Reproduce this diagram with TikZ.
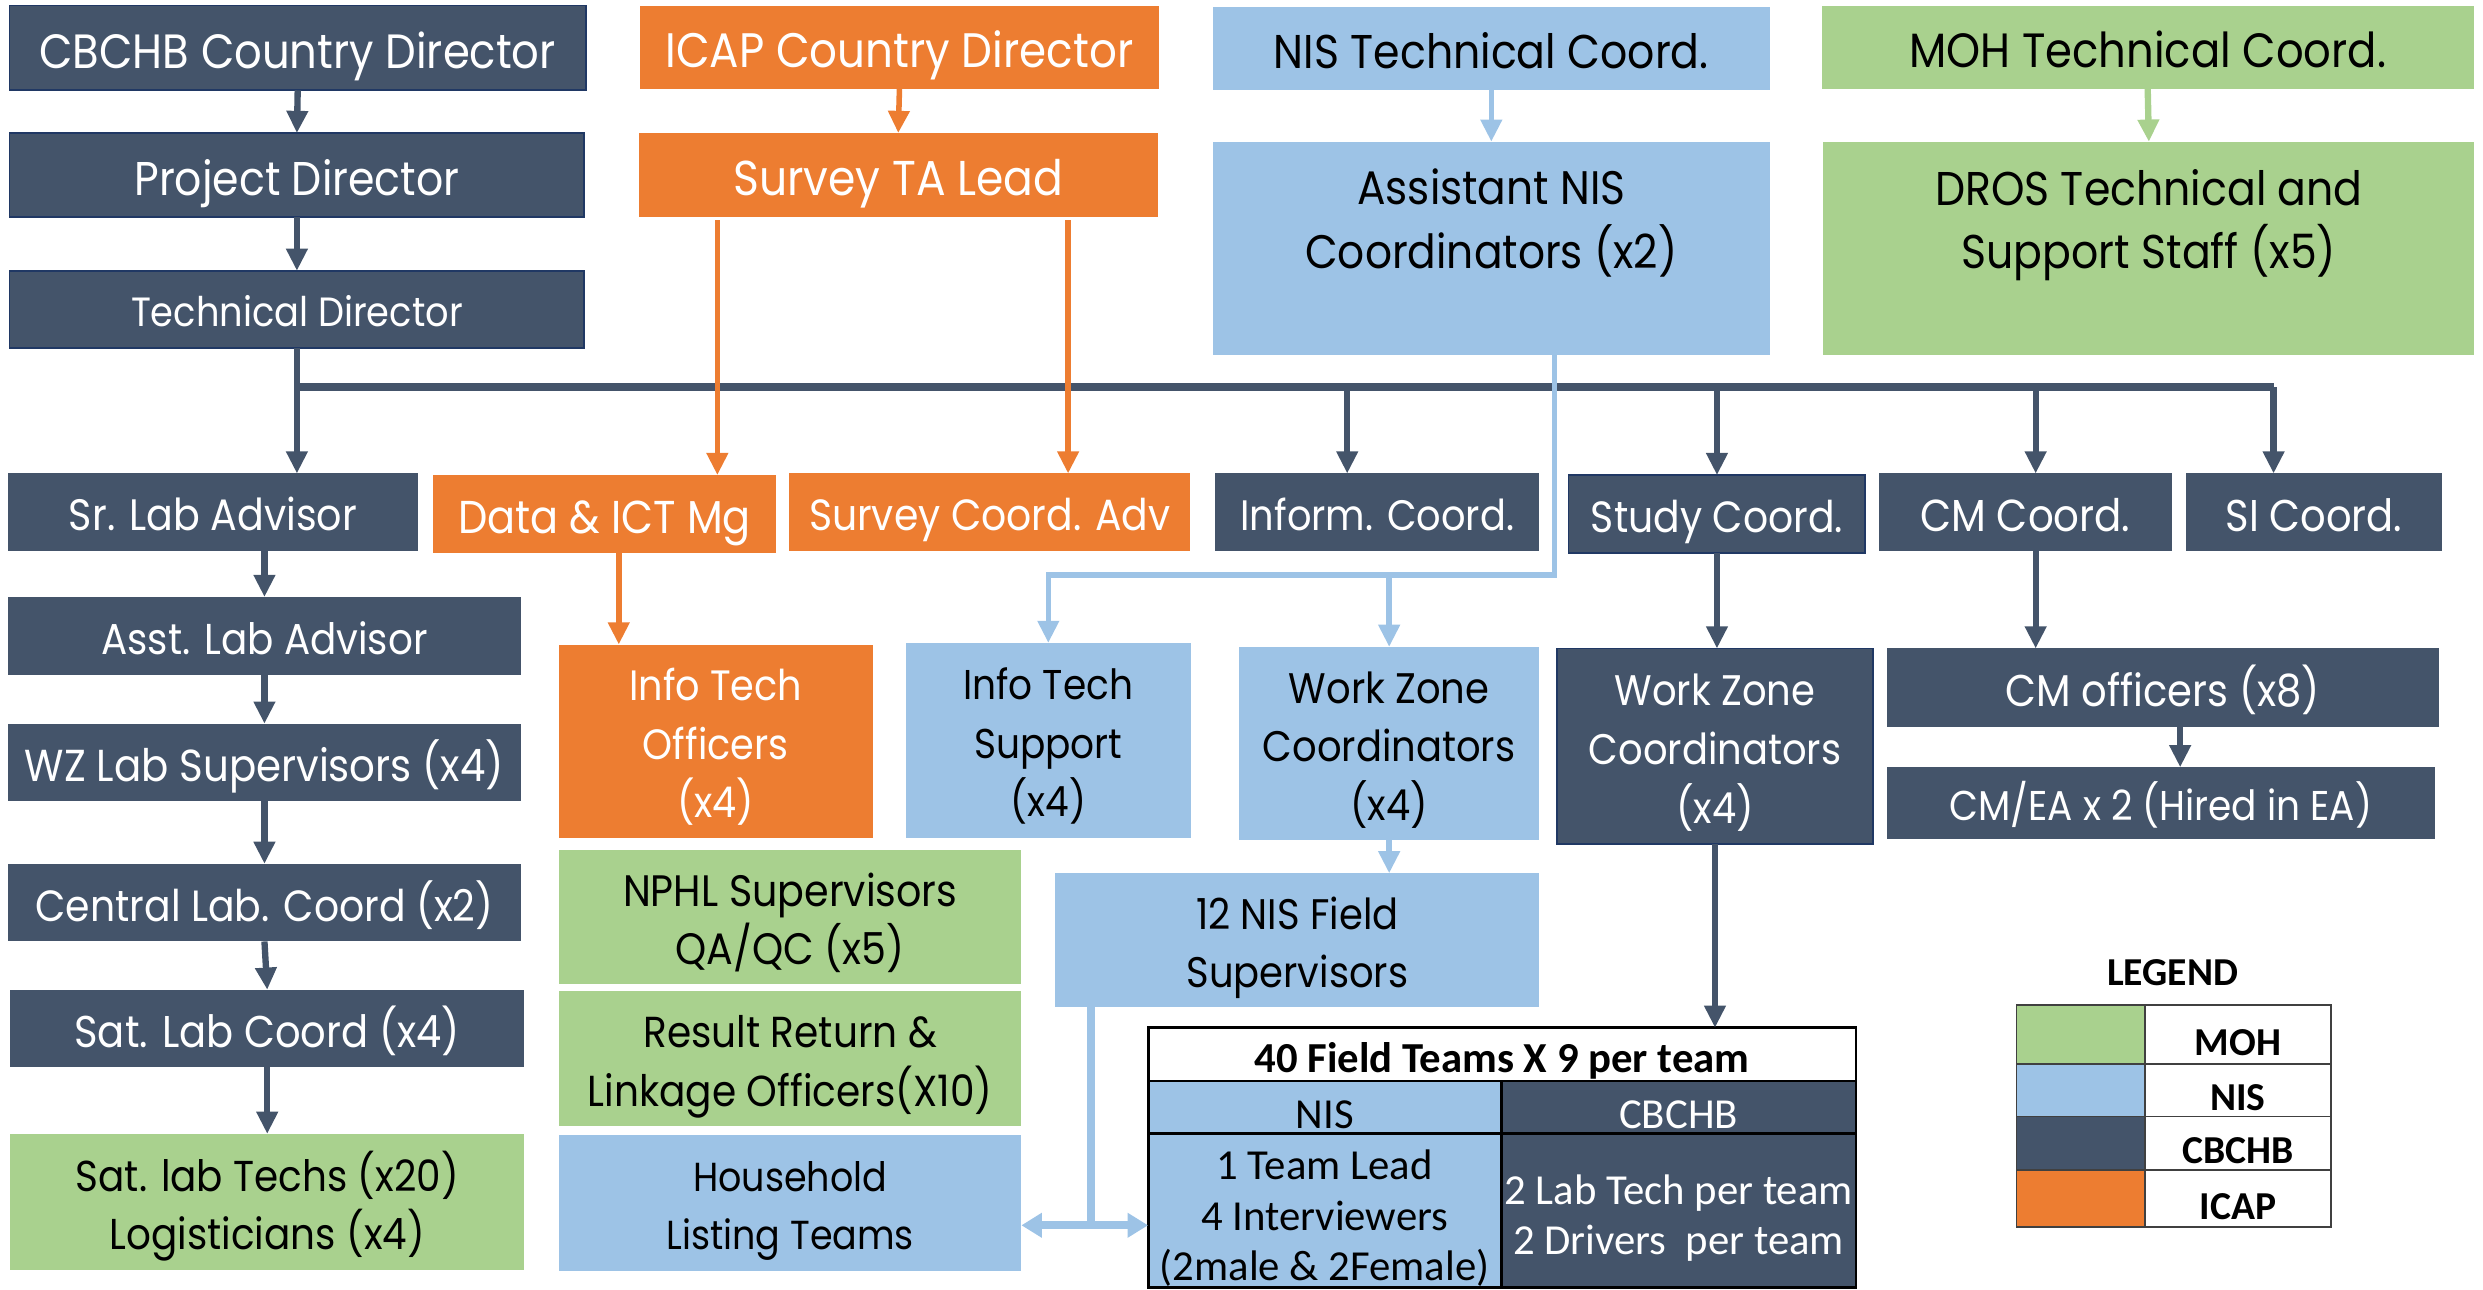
\documentclass[tikz,border=0pt]{standalone}
\usepackage{fontspec}
\newfontfamily\boxfont{Poppins}[FakeStretch=0.9]
\newfontfamily\tabfont{Carlito}
\usetikzlibrary{arrows.meta}

\definecolor{cbchb}{RGB}{68,84,106}
\definecolor{icap}{RGB}{237,125,49}
\definecolor{nis}{RGB}{157,195,230}
\definecolor{moh}{RGB}{169,209,142}
\definecolor{navyline}{RGB}{32,56,100}

\newcommand\tabfnt{\tabfont\fontsize{27}{32}\selectfont}
\newcommand\legfnt{\tabfont\fontsize{25}{28}\selectfont\bfseries}
% struts for the first line of a box / a table cell
\newcommand\fstrut{\rule[-0.3em]{0pt}{1.45em}}
\newcommand\tstrut{\rule{0pt}{1.05em}}

\tikzset{
  wh/.style 2 args={minimum width=#1pt, minimum height=#2pt},
  fsz/.style={font=\boxfont\fontsize{#1}{37}\selectfont},
  box/.style={anchor=north west, inner sep=0pt, outer sep=0pt, align=center, fsz=27.5,
    execute at begin node=\fstrut},
  dk/.style={box, fill=cbchb, text=white},
  dkb/.style={dk, draw=navyline, line width=1.2pt},
  or/.style={box, fill=icap, text=white},
  ni/.style={box, fill=nis, text=black},
  mo/.style={box, fill=moh, text=black},
  tabcell/.style={anchor=north west, inner sep=0pt, outer sep=0pt, align=center,
    draw=black, line width=1.8pt, font=\tabfnt, execute at begin node={\rule{0pt}{1em}}},
  legbox/.style={anchor=north west, inner sep=0pt, outer sep=0pt, draw=black!75,
    line width=1pt, font=\legfnt, execute at begin node={\rule{0pt}{1.05em}}},
  cbarrow/.style={draw=cbchb, line width=4pt, -{Triangle[length=14pt,width=13pt]}},
  busline/.style={draw=cbchb, line width=5pt},
  orarrow/.style={draw=icap, line width=3.5pt, -{Triangle[length=14pt,width=13pt]}},
  nisarrow/.style={draw=nis, line width=3.5pt, -{Triangle[length=14pt,width=13pt]}},
  nisbig/.style={draw=nis, line width=5pt},
  moharrow/.style={draw=moh, line width=4pt, -{Triangle[length=14pt,width=13pt]}}
}

\begin{document}
\begin{tikzpicture}[x=1pt,y=-1pt]
\useasboundingbox (0,0) rectangle (1568,814.6);

% top of the chart: the four heads
\node[dkb, fsz=30.4, wh={364}{53.5}] (cbcd) at (6,3.5) {CBCHB Country Director};
\node[or, fsz=30.6, wh={328}{52.5}] (icd) at (404,3.5) {ICAP Country Director};
\node[ni, fsz=29.9, wh={351.5}{52.5}] (ntc) at (766,4.5) {NIS Technical Coord.};
\node[mo, fsz=30.4, wh={411.5}{52.5}] (mtc) at (1150.5,3.5) {MOH Technical Coord.};

\node[dkb, fsz=29.9, wh={363}{53}] (pd) at (6,84) {Project Director};
\node[or, fsz=30.9, wh={327.5}{53}] (sta) at (403.5,84) {Survey TA Lead};
\node[ni, fsz=29.7, wh={351.5}{134.5}] (anc) at (766,89.5) {\fstrut Assistant NIS\\[3pt]Coordinators (x2)\\[3pt]\mbox{}};
\node[mo, fsz=29.9, wh={411}{134.5}] (dros) at (1151.5,89.5) {\fstrut DROS Technical and\\[3pt]Support Staff (x5)\\[3pt]\mbox{}};

\node[dkb, fsz=25.8, wh={363}{49}] (td) at (6,171) {Technical Director};

% second level
\node[dk, fsz=27.8, wh={259}{49}] (sla) at (5,299) {Sr. Lab Advisor};
\node[or, fsz=29.1, wh={216.5}{49}] (dict) at (273.5,300) {Data \& ICT Mg};
\node[or, fsz=27.6, wh={253}{49}] (sca) at (498.5,299) {Survey Coord. Adv};
\node[dk, fsz=26.9, wh={204.5}{49}] (inf) at (767.5,299) {Inform. Coord.};
\node[dkb, fsz=27.6, wh={187.5}{49}] (stc) at (990.5,300) {Study Coord.};
\node[dk, fsz=28.3, wh={185}{49}] (cmc) at (1186.5,299) {CM Coord.};
\node[dk, fsz=28.1, wh={161.5}{49}] (si) at (1380.5,299) {SI Coord.};

% lab column
\node[dk, fsz=27.3, wh={324}{49}] (ala) at (5,377) {Asst. Lab Advisor};
\node[dk, fsz=28.3, wh={324}{49}] (wzl) at (5,457) {WZ Lab Supervisors (x4)};
\node[dk, fsz=27.6, wh={324}{49}] (clc) at (5,545.5) {Central Lab. Coord (x2)};
\node[dk, fsz=28.1, wh={324.5}{49}] (slc) at (6.5,625) {Sat. Lab Coord (x4)};
\node[mo, fsz=27.3, wh={324.5}{86}] (slt) at (6.5,716) {\fstrut Sat. lab Techs (x20)\\Logisticians (x4)};

% third level
\node[or, fsz=26.8, wh={198}{122}] (ito) at (353,407) {\fstrut Info Tech\\Officers\\(x4)};
\node[ni, fsz=26.3, wh={180}{123}] (its) at (572,406) {\fstrut Info Tech\\Support\\(x4)};
\node[ni, fsz=27, wh={189.5}{122}] (wzn) at (782.5,408.5) {\fstrut Work Zone\\Coordinators\\(x4)};
\node[dkb, fsz=27, wh={199}{123.5}] (wzc) at (983.5,409.5) {\fstrut Work Zone\\Coordinators\\(x4)};
\node[dk, fsz=28.1, wh={348.5}{49.5}] (cmo) at (1191.5,409.5) {CM officers (x8)};
\node[dk, fsz=26.3, wh={346}{45}] (cmea) at (1191.5,484.5) {CM/EA x 2 (Hired in EA)};

\node[mo, fsz=27.8, wh={292}{85}] (nphl) at (353,536.5) {\fstrut NPHL Supervisors\\QA/QC (x5)};
\node[mo, fsz=27.4, wh={292}{85}] (rrl) at (353,626) {\fstrut Result Return \&\\Linkage Officers(X10)};
\node[ni, fsz=25.6, wh={292}{85.5}] (hlt) at (353,717) {\fstrut Household\\Listing Teams};
\node[ni, fsz=27, wh={305.5}{84.5}] (nfs) at (666.5,551.5) {\fstrut 12 NIS Field\\Supervisors};

% field team table
\node[tabcell, wh={447}{33.6}, font=\tabfnt\bfseries] (fthead) at (725,649) {40 Field Teams X 9 per team};
\node[tabcell, wh={223}{33.4}, fill=nis] (ftnis) at (725,682.6) {NIS};
\node[tabcell, wh={224}{33.4}, fill=cbchb, text=white] (ftcb) at (948,682.6) {CBCHB};
\node[tabcell, wh={223}{97}, fill=nis] (ftnisbody) at (725,716) {\tstrut 1 Team Lead\\4 Interviewers\\(2male \& 2Female)};
\node[tabcell, wh={224}{97}, fill=cbchb, text=white] (ftcbbody) at (948,716) {\tstrut 2 Lab Tech per team\\2 Drivers\ \ per team};

% legend
\node[font=\legfnt] (leg) at (1372,614) {LEGEND};
\node[legbox, fill=moh, wh={81}{37.5}] (lgmoh) at (1273.5,634.5) {};
\node[legbox, wh={117.5}{37.5}] (lgmohtx) at (1354.5,634.5) {MOH};
\node[legbox, fill=nis, wh={81}{33}] (lgnis) at (1273.5,672) {};
\node[legbox, wh={117.5}{33}] (lgnistx) at (1354.5,672) {NIS};
\node[legbox, fill=cbchb, wh={81}{34}] (lgcb) at (1273.5,705) {};
\node[legbox, wh={117.5}{34}] (lgcbtx) at (1354.5,705) {CBCHB};
\node[legbox, fill=icap, wh={81}{36}] (lgicap) at (1273.5,739) {};
\node[legbox, wh={117.5}{36}] (lgicaptx) at (1354.5,739) {ICAP};

% CBCHB chain
\draw[cbarrow] (cbcd.south) -- (pd.north);
\draw[cbarrow] (pd.south) -- (td.north);
\coordinate (bus) at (td.south |- 0,244.5);
\coordinate (infin) at ([xshift=-19pt]inf.north);
\coordinate (cmin) at ([xshift=-0.5pt]cmc.north -| 1286,0);
\coordinate (siin) at ([xshift=-25.5pt]si.north);
\draw[busline] (bus) -- (bus -| siin);
\draw[cbarrow] (td.south) -- (td.south |- sla.north);
\draw[cbarrow] (bus -| infin) -- (infin);
\draw[cbarrow] (bus -| stc.north) -- (stc.north);
\draw[cbarrow] (bus -| cmin) -- (cmin);
\draw[cbarrow] (bus -| siin) -- (siin);

\draw[cbarrow] (sla.south -| ala.north) -- (ala.north);
\draw[cbarrow] (ala.south) -- (wzl.north);
\draw[cbarrow] (wzl.south) -- (clc.north);
\draw[cbarrow] (clc.south) -- (slc.north);
\draw[cbarrow] (slc.south) -- (slt.north);

\draw[cbarrow] (stc.south) -- (stc.south |- wzc.north);
\draw[cbarrow] (cmc.south -| cmin) -- (cmo.north -| cmin);
\draw[cbarrow] ([xshift=11pt]cmo.south) -- ([xshift=11pt]cmo.south |- cmea.north);
\draw[cbarrow] (wzc.south) -- (wzc.south |- fthead.north);

% ICAP arrows
\coordinate (dictin) at ([xshift=-37pt]dict.north east);
\coordinate (scain) at ([xshift=-77pt]sca.north east);
\draw[orarrow] (icd.south) -- (sta.north);
\draw[orarrow] ([yshift=-2pt]sta.south -| dictin) -- (dictin);
\draw[orarrow] ([yshift=-2pt]sta.south -| scain) -- (scain);
\draw[orarrow] ([xshift=9pt]dict.south) -- ([xshift=9pt]dict.south |- ito.north);

% NIS arrows
\coordinate (ancout) at ([xshift=40pt]anc.south);
\coordinate (nisrail) at ([yshift=-139pt]ancout);
\draw[nisarrow] (ntc.south) -- (anc.north);
\draw[nisarrow] (ancout) -- (nisrail) -| (its.north);
\draw[nisarrow] (wzn.north |- nisrail) -- (wzn.north);
\draw[nisarrow] (wzn.south) -- (wzn.south |- nfs.north);
\coordinate (nfsout) at ([xshift=22.5pt]nfs.south west);
\coordinate (hltin) at ([yshift=-14pt]hlt.east);
\draw[nisbig] (nfsout) -- (nfsout |- hltin);
\draw[nisbig, {Triangle[length=13pt,width=15pt]}-{Triangle[length=13pt,width=15pt]}] (hltin) -- (hltin -| ftnisbody.west);

% MOH arrow
\draw[moharrow] (mtc.south) -- (dros.north);

\end{tikzpicture}
\end{document}
